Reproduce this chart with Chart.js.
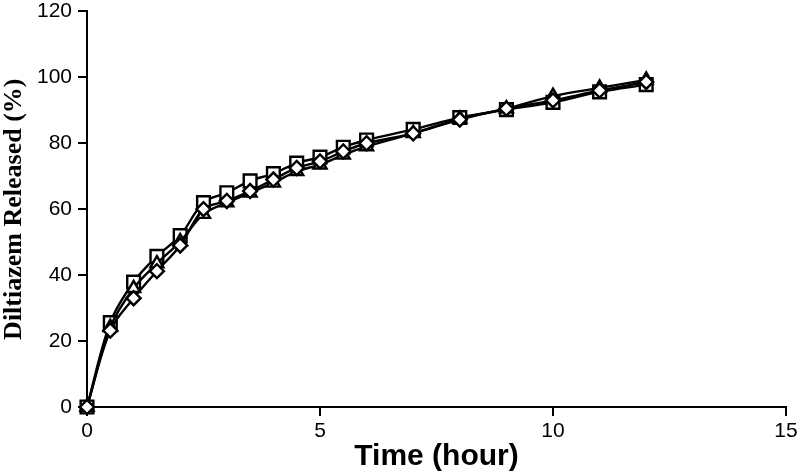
<!DOCTYPE html>
<html lang="en">
<head>
    <meta charset="UTF-8">
    <title>Diltiazem Release Profile</title>
    <script src="https://cdn.jsdelivr.net/npm/chart.js@4.4.2/dist/chart.umd.min.js"></script>
    <style>
        html, body { margin: 0; padding: 0; background: #fff; }
        #wrap { position: relative; width: 799px; height: 472px; }
    </style>
</head>
<body>
    <div id="wrap"><canvas id="releaseChart"></canvas></div>

    <script>
        // --- Data ---
        const timeHours = [0, 0.5, 1, 1.5, 2, 2.5, 3, 3.5, 4, 4.5, 5, 5.5, 6, 7, 8, 9, 10, 11, 12];
        const squareSeries   = [0, 25.6, 37.9, 45.7, 52, 62, 65, 68.6, 70.8, 74, 75.8, 78.8, 81, 84.2, 87.8, 90.2, 92.4, 95.6, 97.8];
        const triangleSeries = [0, 24.2, 36, 43.5, 50.2, 58.5, 62, 65, 68, 71.5, 73.5, 76.5, 79, 83, 87.4, 90.5, 94.3, 96.8, 99.2];
        const diamondSeries  = [0, 23.2, 33, 41.2, 49, 60, 62.5, 65.5, 69, 72.5, 74.5, 77.5, 80, 83, 87.2, 90.5, 93, 96, 98.6];
        const xTicks = [0, 5, 10, 15];
        const yTicks = [0, 20, 40, 60, 80, 100, 120];

        function toPoints(values) {
            return values.map((v, i) => ({ x: timeHours[i], y: v }));
        }

        function series(label, values, shape, radius) {
            return {
                label: label,
                data: toPoints(values),
                borderColor: '#000',
                borderWidth: 2.4,
                backgroundColor: '#fff',
                pointStyle: shape,
                pointRadius: radius,
                pointBorderWidth: 2.4,
                pointBackgroundColor: '#fff',
                pointBorderColor: '#000',
                tension: 0.35,
                clip: false,
                fill: false
            };
        }

        const ctx = document.getElementById('releaseChart').getContext('2d');
        new Chart(ctx, {
            type: 'line',
            data: {
                datasets: [
                    series('Formulation C', diamondSeries, 'rectRot', 7),
                    series('Formulation B', triangleSeries, 'triangle', 7.5),
                    series('Formulation A', squareSeries, 'rect', 9)
                ]
            },
            options: {
                responsive: true,
                maintainAspectRatio: false,
                animation: false,
                layout: { padding: 0 },
                plugins: { legend: { display: false }, tooltip: { enabled: false } },
                scales: {
                    x: {
                        type: 'linear',
                        min: 0, max: 15,
                        afterBuildTicks: axis => { axis.ticks = xTicks.map(v => ({ value: v })); },
                        afterFit: axis => { axis.height = 65; axis.paddingRight = 13; },
                        grid: { drawOnChartArea: false, drawTicks: true, tickLength: 9, color: '#000', lineWidth: 2 },
                        border: { color: '#000', width: 2 },
                        ticks: { color: '#000', font: { family: 'Liberation Sans', size: 21, lineHeight: 1 }, padding: 5 },
                        title: {
                            display: true, text: 'Time (hour)', color: '#000',
                            font: { family: 'Liberation Sans', size: 30, weight: 'bold', lineHeight: 1 },
                            padding: { top: 0, bottom: 0 }
                        }
                    },
                    y: {
                        min: 0, max: 120,
                        afterBuildTicks: axis => { axis.ticks = yTicks.map(v => ({ value: v })); },
                        afterFit: axis => { axis.width = 87; axis.paddingTop = 8; },
                        grid: { drawOnChartArea: false, drawTicks: true, tickLength: 9, color: '#000', lineWidth: 2 },
                        border: { color: '#000', width: 2 },
                        ticks: { color: '#000', font: { family: 'Liberation Sans', size: 21, lineHeight: 1 }, padding: 6 },
                        title: {
                            display: true, text: 'Diltiazem Released (%)', color: '#000',
                            font: { family: 'Liberation Serif', size: 26, weight: 'bold', lineHeight: 1 },
                            padding: { top: 1, bottom: 0 }
                        }
                    }
                }
            }
        });
    </script>
</body>
</html>
